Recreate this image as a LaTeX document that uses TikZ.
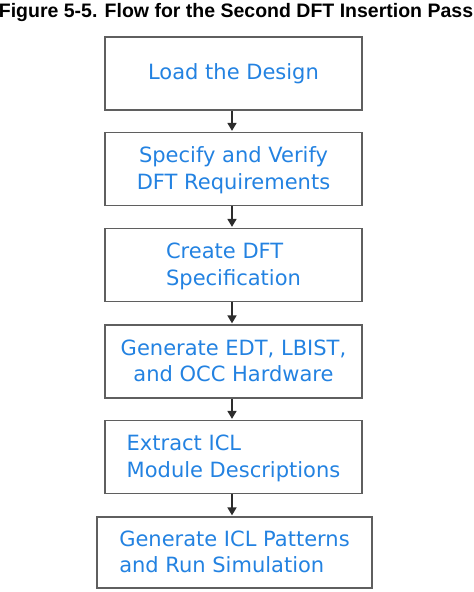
\documentclass[tikz,border=0pt]{standalone}
\usepackage{fontspec}
\setmainfont{DejaVu Sans}
\newfontfamily\titlefont{Liberation Sans}
\usetikzlibrary{arrows.meta}
\definecolor{stepblue}{RGB}{35,130,225}
\definecolor{boxgray}{RGB}{95,95,95}
\definecolor{arrowgray}{RGB}{45,45,45}
\begin{document}
\begin{tikzpicture}[x=1pt,y=-1pt,
  stepbox/.style={draw=boxgray, line width=1.6pt, rectangle,
    minimum width=257pt, minimum height=73pt, inner sep=0pt,
    text=stepblue, font=\fontsize{21}{26.5}\selectfont},
  flowarrow/.style={draw=arrowgray, line width=1.7pt,
    -{Triangle[length=8pt,width=9pt]}, shorten >=0.8pt}]
\useasboundingbox (0,0) rectangle (474,592);
\node[anchor=base, font=\titlefont\bfseries\fontsize{19.5}{22}\selectfont] (title) at (236,17) {Figure 5-5. Flow for the Second DFT Insertion Pass};
\node[stepbox, align=center] (s1) at (233.5,73.5) {Load the Design};
\node[stepbox, align=center, text depth=2pt] (s2) at (233.5,169) {Specify and Verify\\DFT Requirements};
\node[stepbox, align=left, text depth=2pt] (s3) at (233.5,265) {Create DFT\\Specification};
\node[stepbox, align=center, text depth=2pt] (s4) at (233.5,361.5) {Generate EDT, LBIST,\\and OCC Hardware};
\node[stepbox, align=left, text depth=2pt] (s5) at (233.5,457) {Extract ICL\\Module Descriptions};
\node[stepbox, align=left, text depth=2pt, minimum width=275pt, minimum height=71pt] (s6) at (234.5,552.5) {Generate ICL Patterns\\and Run Simulation};
\draw[flowarrow] (s1.south -| 232,0) -- (s2.north -| 232,0);
\draw[flowarrow] (s2.south -| 232,0) -- (s3.north -| 232,0);
\draw[flowarrow] (s3.south -| 232,0) -- (s4.north -| 232,0);
\draw[flowarrow] (s4.south -| 232,0) -- (s5.north -| 232,0);
\draw[flowarrow] (s5.south -| 232,0) -- (s6.north -| 232,0);
\end{tikzpicture}
\end{document}
